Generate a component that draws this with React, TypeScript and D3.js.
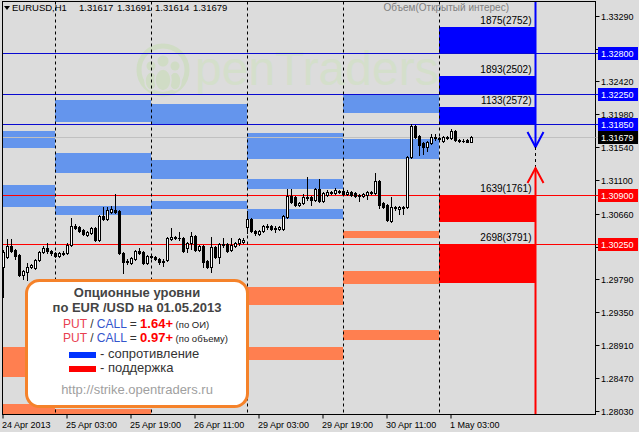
import * as d3 from "d3";
import { FC, useEffect, useRef } from "react";

const WIDTH = 639;
const HEIGHT = 432;

// hourly EURUSD bars: [open, high, low, close]
const OHLC: [number, number, number, number][] = [
  // 24 Apr
  [1.2995, 1.3017, 1.2955, 1.3015],
  [1.3008, 1.3032, 1.3007, 1.3023],
  [1.3023, 1.3032, 1.3015, 1.3016],
  [1.3017, 1.3019, 1.3005, 1.3009],
  [1.3011, 1.3012, 1.2983, 1.2984],
  [1.2984, 1.2991, 1.2979, 1.299],
  [1.2988, 1.3, 1.2978, 1.2995],
  [1.2995, 1.2999, 1.2994, 1.2997],
  [1.2994, 1.3005, 1.2992, 1.3004],
  [1.3004, 1.3016, 1.3003, 1.3015],
  [1.3015, 1.3023, 1.3013, 1.302],
  [1.302, 1.3027, 1.3013, 1.3016],
  [1.3016, 1.3017, 1.3011, 1.3013],
  // 25 Apr
  [1.3013, 1.3015, 1.3008, 1.3009],
  [1.3009, 1.3015, 1.3008, 1.3013],
  [1.3013, 1.3016, 1.3011, 1.3012],
  [1.3013, 1.3027, 1.3012, 1.3024],
  [1.3024, 1.306, 1.3023, 1.3049],
  [1.3049, 1.3052, 1.3045, 1.3047],
  [1.3048, 1.3049, 1.3041, 1.3043],
  [1.3044, 1.3045, 1.3037, 1.3039],
  [1.3037, 1.3043, 1.3036, 1.3041],
  [1.304, 1.3048, 1.3039, 1.3047],
  [1.3047, 1.3048, 1.3029, 1.3031],
  [1.3031, 1.3064, 1.3029, 1.3063],
  [1.3063, 1.3075, 1.3057, 1.3059],
  [1.3059, 1.3075, 1.3057, 1.3071],
  [1.3068, 1.3076, 1.3067, 1.3072],
  [1.3071, 1.3092, 1.3067, 1.3068],
  [1.3069, 1.3071, 1.3012, 1.3013],
  [1.3013, 1.3015, 1.2987, 1.3001],
  [1.3001, 1.3005, 1.2999, 1.3003],
  [1.3, 1.3008, 1.2999, 1.3007],
  [1.3005, 1.3017, 1.3004, 1.3016],
  [1.3016, 1.302, 1.3012, 1.3013],
  [1.3015, 1.3016, 1.2999, 1.3],
  [1.3, 1.3011, 1.2999, 1.3009],
  // 26 Apr
  [1.3009, 1.3012, 1.3007, 1.3008],
  [1.3008, 1.3009, 1.3004, 1.3005],
  [1.3005, 1.3007, 1.2999, 1.3001],
  [1.3001, 1.3005, 1.2996, 1.3003],
  [1.3004, 1.3035, 1.3003, 1.3033],
  [1.3032, 1.3047, 1.3031, 1.3035],
  [1.3035, 1.3036, 1.3032, 1.3033],
  [1.3033, 1.3041, 1.3031, 1.3034],
  [1.3033, 1.3035, 1.3015, 1.3016],
  [1.302, 1.3028, 1.3015, 1.3027],
  [1.3027, 1.3041, 1.3019, 1.3036],
  [1.3036, 1.3037, 1.3016, 1.3017],
  [1.3017, 1.3024, 1.3016, 1.3023],
  [1.3023, 1.3024, 1.2995, 1.3001],
  [1.3003, 1.3004, 1.2994, 1.2995],
  [1.2995, 1.3035, 1.2988, 1.3021],
  [1.3021, 1.3023, 1.3007, 1.3008],
  [1.3008, 1.3027, 1.3, 1.3025],
  [1.3025, 1.3033, 1.3021, 1.3024],
  [1.3025, 1.3027, 1.3015, 1.3016],
  [1.3017, 1.3033, 1.3016, 1.3024],
  [1.3023, 1.3028, 1.3021, 1.3027],
  [1.3027, 1.3033, 1.3024, 1.3032],
  [1.3028, 1.3033, 1.3027, 1.3031],
  // 29 Apr
  [1.3048, 1.3069, 1.304, 1.3059],
  [1.3059, 1.306, 1.3041, 1.3043],
  [1.3043, 1.3044, 1.3037, 1.304],
  [1.3039, 1.3044, 1.3037, 1.3043],
  [1.3043, 1.3051, 1.3041, 1.3049],
  [1.3049, 1.3052, 1.3045, 1.3048],
  [1.3049, 1.3051, 1.3044, 1.3045],
  [1.3045, 1.3049, 1.3041, 1.3047],
  [1.3045, 1.3049, 1.3044, 1.3048],
  [1.3045, 1.3064, 1.3044, 1.3063],
  [1.3061, 1.3099, 1.306, 1.3089],
  [1.3089, 1.3099, 1.308, 1.3081],
  [1.3088, 1.3089, 1.3076, 1.3077],
  [1.3077, 1.3081, 1.3076, 1.308],
  [1.308, 1.3092, 1.3079, 1.3088],
  [1.3088, 1.3115, 1.3084, 1.3087],
  [1.3088, 1.3089, 1.3077, 1.3084],
  [1.3084, 1.31, 1.3083, 1.3099],
  [1.3099, 1.3112, 1.3081, 1.3083],
  [1.3083, 1.3095, 1.3081, 1.3093],
  [1.3091, 1.3097, 1.3089, 1.3095],
  [1.3095, 1.3096, 1.3092, 1.3093],
  [1.3093, 1.31, 1.3092, 1.3097],
  [1.3096, 1.3097, 1.3093, 1.3095],
  // 30 Apr
  [1.3096, 1.3097, 1.3091, 1.3092],
  [1.3092, 1.3097, 1.3091, 1.3095],
  [1.3095, 1.3096, 1.3089, 1.3091],
  [1.3093, 1.3095, 1.3088, 1.3089],
  [1.3089, 1.3092, 1.3083, 1.3091],
  [1.3089, 1.3093, 1.3088, 1.3092],
  [1.3091, 1.3096, 1.3085, 1.3095],
  [1.3095, 1.3096, 1.3092, 1.3093],
  [1.3093, 1.312, 1.3092, 1.3109],
  [1.3109, 1.3111, 1.3073, 1.3077],
  [1.308, 1.3081, 1.3073, 1.3075],
  [1.3077, 1.3079, 1.3056, 1.3057],
  [1.3056, 1.3088, 1.3055, 1.3075],
  [1.3073, 1.3076, 1.3071, 1.3075],
  [1.3072, 1.3076, 1.3065, 1.3075],
  [1.3075, 1.3076, 1.3065, 1.3073],
  [1.3075, 1.3143, 1.3073, 1.3141],
  [1.3141, 1.3185, 1.314, 1.3183],
  [1.3183, 1.3184, 1.3167, 1.3168],
  [1.3169, 1.3171, 1.3144, 1.3157],
  [1.316, 1.3161, 1.3145, 1.3155],
  [1.3155, 1.3163, 1.3149, 1.3161],
  [1.316, 1.3172, 1.3159, 1.3168],
  [1.3168, 1.3172, 1.3164, 1.3167],
  // 1 May
  [1.3167, 1.3168, 1.3164, 1.3165],
  [1.3163, 1.3169, 1.3161, 1.3168],
  [1.3168, 1.3169, 1.3165, 1.3167],
  [1.3167, 1.3179, 1.3165, 1.3176],
  [1.3176, 1.3177, 1.3163, 1.3164],
  [1.3164, 1.3165, 1.3161, 1.3163],
  [1.3163, 1.3165, 1.3161, 1.3162],
  [1.3164, 1.3165, 1.3161, 1.3161],
  [1.31617, 1.31691, 1.31614, 1.31679],
];

// trading sessions (weekend skipped)
const SESSIONS: [Date, Date][] = [
  [new Date(2013, 3, 24, 11), new Date(2013, 3, 27, 0)],
  [new Date(2013, 3, 29, 0), new Date(2013, 4, 1, 9)],
];

const PRICE_TICKS = [
  1.3329, 1.3285, 1.3242, 1.3198, 1.3154, 1.311, 1.3066, 1.3022, 1.2979,
  1.2935, 1.2891, 1.2847, 1.2803,
];

// previous days' option zones: [day index, upper price, lower price]
const CALL_ZONES: [number, number, number][] = [
  [0, 1.3176, 1.3153],
  [0, 1.3104, 1.3075],
  [1, 1.3217, 1.3188],
  [1, 1.3147, 1.312],
  [1, 1.3076, 1.3064],
  [2, 1.3212, 1.3184],
  [2, 1.3137, 1.3112],
  [2, 1.3083, 1.3072],
  [3, 1.3173, 1.3139],
  [3, 1.3112, 1.3099],
  [3, 1.3072, 1.3059],
  [4, 1.3224, 1.32],
  [4, 1.3165, 1.3139],
];
const PUT_ZONES: [number, number, number][] = [
  [0, 1.2888, 1.2848],
  [0, 1.2812, 1.2785],
  [1, 1.2806, 1.2785],
  [3, 1.2968, 1.2944],
  [3, 1.2888, 1.2871],
  [4, 1.3043, 1.3033],
  [4, 1.299, 1.2972],
  [4, 1.2911, 1.2898],
];

// today's strikes (1 May)
const STRIKES = [1.328, 1.3225, 1.3185, 1.309, 1.3025];
const STRIKE_KIND = ["call", "call", "call", "put", "put"];
const STRIKE_EDGE = [1.3314, 1.3249, 1.3208, 1.3055, 1.2974];
const STRIKE_LABELS = [
  "1875(2752)",
  "1893(2502)",
  "1133(2572)",
  "1639(1761)",
  "2698(3791)",
];
const ARROW_LEVELS = [1.3155, 1.3127]; // resistance arrow tip, support arrow tip

const FONT = "'Liberation Sans', Arial, sans-serif";
const BG = "#dcdcdc";
const LIGHT_BLUE = "#6495ed";
const CORAL = "#ff7f50";

const App: FC = () => {
  const ref = useRef<SVGSVGElement | null>(null);

  useEffect(() => {
    if (!ref.current) return;
    document.body.style.margin = "0";
    const svg = d3.select(ref.current);
    svg.selectAll("*").remove();

    const L = 2.5,
      R = 595.5,
      T = 1.5,
      B = 414.5;

    const times = SESSIONS.flatMap(([a, b]) => d3.timeHour.range(a, b));
    const x = d3
      .scaleLinear()
      .domain([0, times.length - 1])
      .range([3.5, 471.5]);
    const y = d3.scaleLinear().domain([1.2803, 1.3329]).range([411, 16]);
    const py = (p: number) => Math.round(y(p)) + 0.5;

    // day start as bar index
    const dayKeys = Array.from(
      new Set(times.map((t) => +d3.timeDay.floor(t)))
    );
    const dayStart = dayKeys.map((k) => {
      const i = times.findIndex((t) => +d3.timeDay.floor(t) === k);
      return i - times[i].getHours();
    });
    const dx0 = (d: number) => x(dayStart[d]) - 0.5;
    const dx1 = (d: number) => x(dayStart[d] + 24) - 0.5;
    const today = dayStart.length - 1;
    const todayEnd = x(dayStart[today] + 24);

    svg
      .append("rect")
      .attr("width", WIDTH)
      .attr("height", HEIGHT)
      .attr("fill", BG);

    svg
      .append("defs")
      .append("clipPath")
      .attr("id", "plot")
      .append("rect")
      .attr("x", L)
      .attr("y", T)
      .attr("width", R - L)
      .attr("height", B - T);

    // watermark
    const wm = svg.append("g").attr("fill", "#d0dcc5");
    wm.append("circle")
      .attr("cx", 163)
      .attr("cy", 70)
      .attr("r", 24)
      .attr("fill", "none")
      .attr("stroke", "#d0dcc5")
      .attr("stroke-width", 5);
    [
      [151, 66, 4.5, 81, 6, 9],
      [175, 66, 4.5, 81, 6, 9],
      [163, 61, 5.5, 80, 8, 11],
    ].forEach(([cx, hy, hr, by, rx, ry]) => {
      wm.append("circle").attr("cx", cx).attr("cy", hy).attr("r", hr);
      wm.append("ellipse")
        .attr("cx", cx)
        .attr("cy", by)
        .attr("rx", rx)
        .attr("ry", ry)
        .attr("stroke", BG)
        .attr("stroke-width", 1.5);
    });
    wm.append("text")
      .attr("x", 195)
      .attr("y", 85)
      .attr("font-family", FONT)
      .attr("font-size", 48)
      .attr("fill", "#d4dfcb")
      .text("penTraders");

    const plot = svg.append("g").attr("clip-path", "url(#plot)");

    // past option zones
    const zones = plot.append("g").attr("shape-rendering", "crispEdges");
    const drawZones = (data: [number, number, number][], color: string) =>
      zones
        .selectAll(null)
        .data(data)
        .enter()
        .append("rect")
        .attr("x", (d) => dx0(d[0]))
        .attr("width", (d) => dx1(d[0]) - dx0(d[0]))
        .attr("y", (d) => Math.round(y(d[1])))
        .attr("height", (d) => Math.round(y(d[2])) - Math.round(y(d[1])))
        .attr("fill", color);
    drawZones(CALL_ZONES, LIGHT_BLUE);
    drawZones(PUT_ZONES, CORAL);

    // today's strikes
    STRIKES.forEach((s, i) => {
      const a = Math.round(y(s));
      const b = Math.round(y(STRIKE_EDGE[i]));
      zones
        .append("rect")
        .attr("x", dx0(today))
        .attr("width", dx1(today) - dx0(today))
        .attr("y", Math.min(a, b))
        .attr("height", Math.abs(a - b))
        .attr("fill", STRIKE_KIND[i] === "call" ? "#0000ff" : "#ff0000");
    });

    // level lines
    STRIKES.forEach((s, i) => {
      plot
        .append("line")
        .attr("x1", L)
        .attr("x2", R)
        .attr("y1", py(s))
        .attr("y2", py(s))
        .attr("stroke", STRIKE_KIND[i] === "call" ? "#0a0ad0" : "#ff0000");
    });
    const last = OHLC[OHLC.length - 1];
    plot
      .append("line")
      .attr("x1", L)
      .attr("x2", R)
      .attr("y1", py(last[3]))
      .attr("y2", py(last[3]))
      .attr("stroke", "#c0c0c0");

    // day separators
    dayStart.slice(1).forEach((s) => {
      plot
        .append("line")
        .attr("x1", x(s))
        .attr("x2", x(s))
        .attr("y1", T)
        .attr("y2", B)
        .attr("stroke", "#000")
        .attr("stroke-dasharray", "3,3");
    });

    // strike labels
    STRIKES.forEach((s, i) => {
      const top = STRIKE_KIND[i] === "call" ? STRIKE_EDGE[i] : s;
      plot
        .append("text")
        .attr("x", todayEnd - 4)
        .attr("y", Math.round(y(top)) - 3)
        .attr("text-anchor", "end")
        .attr("font-family", FONT)
        .attr("font-size", 10)
        .attr("fill", "#000")
        .text(STRIKE_LABELS[i]);
    });

    // candles
    const candles = plot.append("g").attr("shape-rendering", "crispEdges");
    OHLC.forEach(([o, h, l, c], i) => {
      const cx = x(i);
      candles
        .append("line")
        .attr("x1", cx)
        .attr("x2", cx)
        .attr("y1", Math.round(y(h)))
        .attr("y2", Math.round(y(l)) + 1)
        .attr("stroke", "#000");
      const top = py(Math.max(o, c));
      const bot = py(Math.min(o, c));
      if (bot - top < 1) {
        candles
          .append("line")
          .attr("x1", cx - 1.5)
          .attr("x2", cx + 1.5)
          .attr("y1", top)
          .attr("y2", top)
          .attr("stroke", "#000");
      } else {
        candles
          .append("rect")
          .attr("x", cx - 1)
          .attr("width", 2)
          .attr("y", top)
          .attr("height", bot - top)
          .attr("fill", c >= o ? "#fff" : "#000")
          .attr("stroke", "#000");
      }
    });

    // arrows
    const ax = todayEnd;
    const [upTip, dnTip] = ARROW_LEVELS.map((p) => Math.round(y(p)));
    plot
      .append("line")
      .attr("x1", ax)
      .attr("x2", ax)
      .attr("y1", T)
      .attr("y2", upTip)
      .attr("stroke", "#0000ff")
      .attr("stroke-width", 2);
    plot
      .append("polyline")
      .attr(
        "points",
        `${ax - 8},${upTip - 15} ${ax},${upTip} ${ax + 8},${upTip - 15}`
      )
      .attr("fill", "none")
      .attr("stroke", "#0000ff")
      .attr("stroke-width", 2);
    plot
      .append("line")
      .attr("x1", ax)
      .attr("x2", ax)
      .attr("y1", upTip)
      .attr("y2", dnTip)
      .attr("stroke", "#000")
      .attr("stroke-dasharray", "3,3");
    plot
      .append("line")
      .attr("x1", ax)
      .attr("x2", ax)
      .attr("y1", dnTip)
      .attr("y2", B)
      .attr("stroke", "#ff0000")
      .attr("stroke-width", 2);
    plot
      .append("polyline")
      .attr(
        "points",
        `${ax - 8},${dnTip + 15} ${ax},${dnTip} ${ax + 8},${dnTip + 15}`
      )
      .attr("fill", "none")
      .attr("stroke", "#ff0000")
      .attr("stroke-width", 2);

    // header
    svg
      .append("polygon")
      .attr("points", "4,6 10,6 7,10")
      .attr("fill", "#000");
    svg
      .append("text")
      .attr("x", 12)
      .attr("y", 10.5)
      .attr("font-family", FONT)
      .attr("font-size", 9.5)
      .text("EURUSD,H1");
    svg
      .append("text")
      .attr("x", 79)
      .attr("y", 10.5)
      .attr("font-family", FONT)
      .attr("font-size", 9.5)
      .attr("word-spacing", 1)
      .text(last.map((v) => d3.format(".5f")(v)).join(" "));
    svg
      .append("text")
      .attr("x", 509)
      .attr("y", 10.5)
      .attr("text-anchor", "end")
      .attr("font-family", FONT)
      .attr("font-size", 10)
      .attr("fill", "#808080")
      .text("Объем(Открытый интерес)");

    // frame
    svg
      .append("rect")
      .attr("x", L)
      .attr("y", T)
      .attr("width", R - L)
      .attr("height", B - T)
      .attr("fill", "none")
      .attr("stroke", "#000");

    // price axis
    const pa = svg.append("g").attr("font-family", FONT).attr("font-size", 9);
    const boxes: [number, string][] = [
      ...STRIKES.map(
        (s, i) =>
          [s, STRIKE_KIND[i] === "call" ? "#0000ff" : "#ff0000"] as [
            number,
            string
          ]
      ),
      [last[3], "#000"],
    ];
    PRICE_TICKS.forEach((p) => {
      pa.append("line")
        .attr("x1", R)
        .attr("x2", R + 4)
        .attr("y1", py(p))
        .attr("y2", py(p))
        .attr("stroke", "#000");
      // labels hidden behind a level box are not drawn
      const covered = boxes.some(([b]) => Math.abs(y(b) - y(p)) < 8);
      if (!covered)
        pa.append("text")
          .attr("x", 601)
          .attr("y", Math.round(y(p)) + 3.5)
          .text(d3.format(".5f")(p));
    });
    boxes.forEach(([p, color]) => {
      const cy = Math.round(y(p));
      pa.append("line")
        .attr("x1", R)
        .attr("x2", 598)
        .attr("y1", cy + 0.5)
        .attr("y2", cy + 0.5)
        .attr("stroke", color === "#000" ? "#c0c0c0" : color);
      pa.append("rect")
        .attr("x", 598)
        .attr("y", cy - 6)
        .attr("width", 40)
        .attr("height", 13)
        .attr("fill", color);
      pa.append("text")
        .attr("x", 601)
        .attr("y", cy + 4)
        .attr("fill", "#fff")
        .text(d3.format(".5f")(p));
    });

    // time axis
    const ta = svg.append("g").attr("font-family", FONT).attr("font-size", 9);
    const fmt = d3.timeFormat("%-d %b %H:%M");
    d3.range(0, times.length, 16).forEach((i) => {
      ta.append("line")
        .attr("x1", x(i) - 0.5)
        .attr("x2", x(i) - 0.5)
        .attr("y1", B)
        .attr("y2", B + 4)
        .attr("stroke", "#000");
      ta.append("text")
        .attr("x", x(i) - 1.5)
        .attr("y", 428)
        .text(i === 0 ? d3.timeFormat("%-d %b %Y")(times[i]) : fmt(times[i]));
    });

    // info box
    const box = svg.append("g").attr("font-family", FONT);
    box
      .append("rect")
      .attr("x", 26.5)
      .attr("y", 280.5)
      .attr("width", 221)
      .attr("height", 126)
      .attr("rx", 13)
      .attr("fill", "#fff")
      .attr("stroke", "#f5822a")
      .attr("stroke-width", 3);
    const cx = 137;
    box
      .append("text")
      .attr("x", cx)
      .attr("y", 297)
      .attr("text-anchor", "middle")
      .attr("font-size", 13)
      .attr("font-weight", "bold")
      .attr("fill", "#444")
      .text("Опционные уровни");
    box
      .append("text")
      .attr("x", cx)
      .attr("y", 312)
      .attr("text-anchor", "middle")
      .attr("font-size", 13)
      .attr("font-weight", "bold")
      .attr("fill", "#444")
      .text("по EUR /USD на 01.05.2013");
    const ratioRow = (yy: number, value: string, note: string) => {
      const t = box.append("text").attr("x", 63).attr("y", yy);
      t.append("tspan").attr("font-size", 12).attr("fill", "#e8404f").text("PUT");
      t.append("tspan").attr("font-size", 12).attr("fill", "#333").text(" / ");
      t.append("tspan").attr("font-size", 12).attr("fill", "#3355cc").text("CALL");
      t.append("tspan").attr("font-size", 12).attr("fill", "#333").text(" = ");
      t.append("tspan")
        .attr("font-size", 13)
        .attr("font-weight", "bold")
        .attr("fill", "#ff0000")
        .text(value);
      t.append("tspan").attr("font-size", 9.5).attr("fill", "#222").text(" " + note);
    };
    ratioRow(328, "1.64+", "(по ОИ)");
    ratioRow(341.5, "0.97+", "(по объему)");
    const legendRow = (yy: number, color: string, label: string) => {
      box
        .append("rect")
        .attr("x", 69)
        .attr("y", yy - 6)
        .attr("width", 27)
        .attr("height", 6)
        .attr("fill", color);
      box
        .append("text")
        .attr("x", 100)
        .attr("y", yy)
        .attr("font-size", 13)
        .attr("fill", "#333")
        .text(label);
    };
    legendRow(358, "#0033ff", "- сопротивление");
    legendRow(372, "#ff0000", "- поддержка");
    box
      .append("text")
      .attr("x", cx)
      .attr("y", 394)
      .attr("text-anchor", "middle")
      .attr("font-size", 13)
      .attr("fill", "#a0a0a0")
      .text("http://strike.opentraders.ru");
  }, []);

  return (
    <svg
      ref={ref}
      width={WIDTH}
      height={HEIGHT}
      style={{ display: "block" }}
    />
  );
};

export default App;
